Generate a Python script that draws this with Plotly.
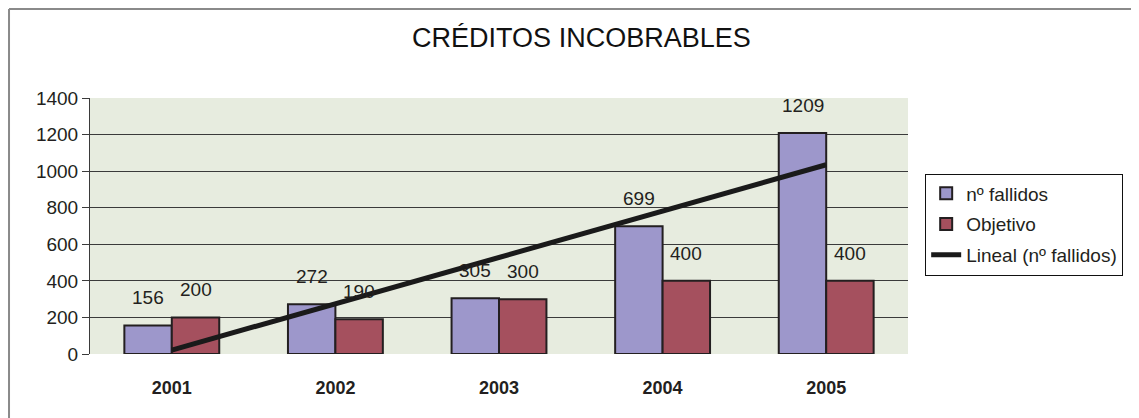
import numpy as np
import plotly.graph_objects as go

# ── Data ──────────────────────────────────────────────────────────────────────
years = ["2001", "2002", "2003", "2004", "2005"]
fallidos = [156, 272, 305, 699, 1209]
objetivo = [200, 190, 300, 400, 400]

# ── Palette ───────────────────────────────────────────────────────────────────
C = {
    "bg":      "#ffffff",
    "plot":    "#e7ecdf",
    "ink":     "#231f20",
    "grid":    "#3a3a3a",
    "frame":   "#8a8a8a",
    "blue":    "#9d97cb",
    "red":     "#a5505e",
}
_FONT = "'Liberation Sans', Arial, Helvetica, sans-serif"

xs = list(range(1, len(years) + 1))

# Excel-style linear trend of nº fallidos
slope, icpt = np.polyfit(xs, fallidos, 1)
trend = [slope * x + icpt for x in xs]

fig = go.Figure()
fig.add_trace(go.Bar(
    x=xs, y=fallidos, name="nº fallidos", legendgroup="a",
    marker=dict(color=C["blue"], line=dict(color=C["ink"], width=2)),
))
fig.add_trace(go.Bar(
    x=xs, y=objetivo, name="Objetivo", legendgroup="b",
    marker=dict(color=C["red"], line=dict(color=C["ink"], width=2)),
))
fig.add_trace(go.Scatter(
    x=xs, y=trend, name="Lineal (nº fallidos)", mode="lines", legendgroup="c",
    line=dict(color="#1a1a1a", width=5),
))

# value labels above bars
for x, v in zip(xs, fallidos):
    fig.add_annotation(x=x, y=v, text=str(v), showarrow=False,
                       xshift=-23.7, yshift=15, yanchor="bottom",
                       font=dict(size=19, color="#231f20", family=_FONT))
for x, v in zip(xs, objetivo):
    fig.add_annotation(x=x, y=v, text=str(v), showarrow=False,
                       xshift=23.7, yshift=15, yanchor="bottom",
                       font=dict(size=19, color="#231f20", family=_FONT))

# outer chart frame (top and left edges)
fig.add_shape(type="line", xref="paper", yref="paper",
              x0=-0.099, x1=1.3, y0=1.3477, y1=1.3477,
              line=dict(color=C["frame"], width=2))
fig.add_shape(type="line", xref="paper", yref="paper",
              x0=-0.099, x1=-0.099, y0=1.3477, y1=-0.3,
              line=dict(color=C["frame"], width=2))

fig.update_layout(
    width=1131, height=410,
    paper_bgcolor=C["bg"], plot_bgcolor=C["plot"],
    font=dict(family=_FONT, color="#231f20", size=19),
    margin=dict(l=82, r=231, t=90, b=64),
    barmode="group", bargap=0.42, bargroupgap=0,
    title=dict(text="CRÉDITOS INCOBRABLES", x=0.507, xanchor="center",
               y=0.927, yanchor="middle", xref="container",
               font=dict(size=27, color="#111111", family=_FONT)),
    legend=dict(x=1.021, xanchor="left", y=0.705, yanchor="top",
                bgcolor=C["bg"], bordercolor="#111111", borderwidth=1,
                font=dict(size=19, family=_FONT), tracegroupgap=3),
    showlegend=True,
)
fig.update_xaxes(range=[0.5, 5.5], tickvals=xs, ticktext=years,
                 tickfont=dict(size=18, family="'Liberation Sans', Arial", weight="bold"),
                 ticks="outside", ticklen=17, tickcolor="rgba(0,0,0,0)",
                 showgrid=False, zeroline=False, showline=False)
fig.update_yaxes(range=[0, 1400], dtick=200, tick0=0,
                 tickfont=dict(size=19),
                 ticks="outside", ticklen=7, tickcolor=C["grid"],
                 showgrid=True, gridcolor=C["grid"], gridwidth=1,
                 zeroline=False, showline=True, linecolor=C["grid"], linewidth=1)

fig.write_html("out.html")
